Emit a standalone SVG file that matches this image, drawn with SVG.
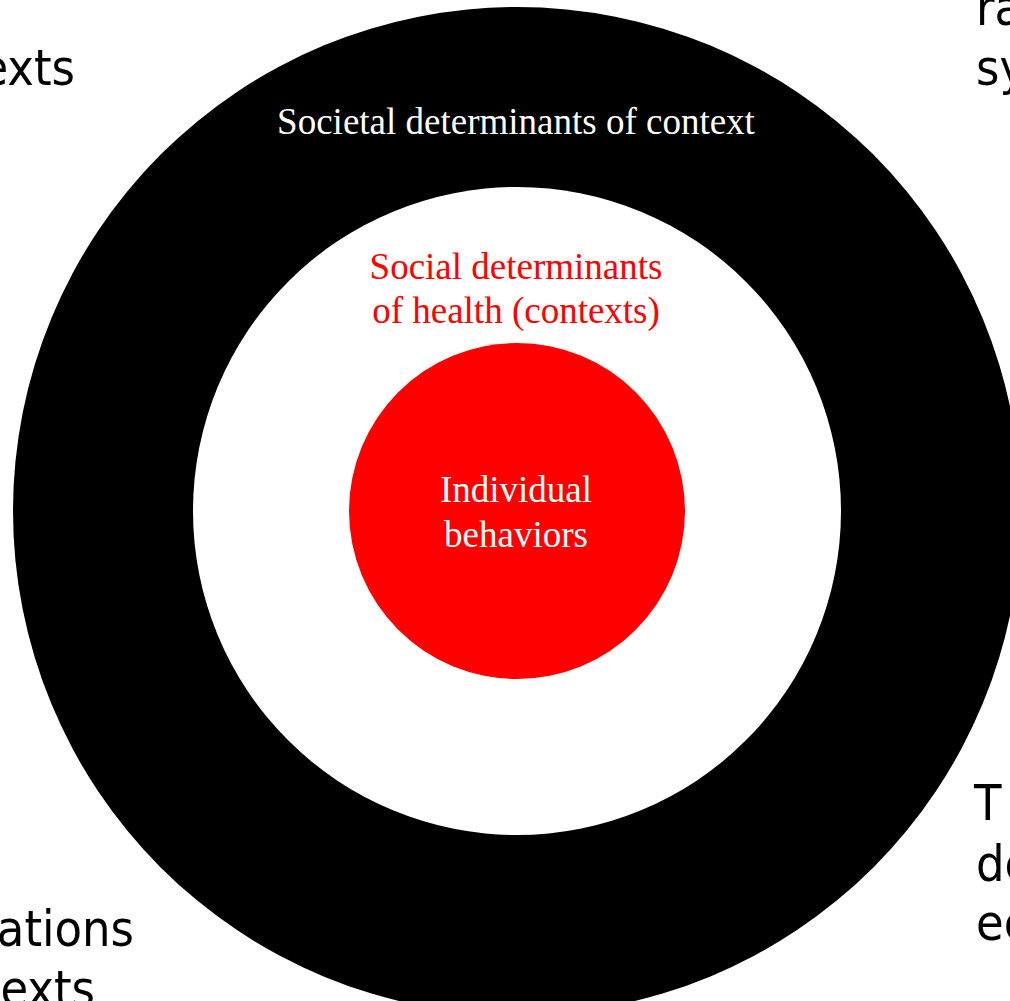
<svg xmlns="http://www.w3.org/2000/svg" width="1010" height="1001" viewBox="0 0 1010 1001">
<style>
.side{font-family:"DejaVu Sans Condensed","DejaVu Sans",sans-serif;font-stretch:condensed;font-size:50px;fill:#000}
.serif{font-family:"Liberation Serif","Times New Roman",serif;font-size:37px;text-anchor:middle}
</style>
<rect width="1010" height="1001" fill="#fff"/>
<g id="side-texts">
<text class="side" x="75" y="85" text-anchor="end">exts</text>
<text class="side" x="134" y="946" text-anchor="end">ations</text>
<text class="side" x="95" y="1006" text-anchor="end">exts</text>
<text class="side" x="976" y="25">ra</text>
<text class="side" x="976" y="85">sy</text>
<text class="side" x="974" y="820">T</text>
<text class="side" x="976" y="881">de</text>
<text class="side" x="976" y="940">ec</text>
</g>
<g id="societal">
<circle cx="517" cy="511" r="504" fill="#000"/>
<text class="serif" x="516" y="134" fill="#fff">Societal determinants of context</text>
</g>
<g id="social">
<circle cx="517" cy="511" r="324" fill="#fff"/>
<text class="serif" x="516" y="279" fill="#f00">Social determinants</text>
<text class="serif" x="516" y="323" fill="#f00">of health (contexts)</text>
</g>
<g id="individual">
<circle cx="517" cy="511" r="168" fill="#f00"/>
<text class="serif" x="516" y="502" fill="#fff">Individual</text>
<text class="serif" x="516" y="547" fill="#fff">behaviors</text>
</g>
<g id="connectors"/>
</svg>
